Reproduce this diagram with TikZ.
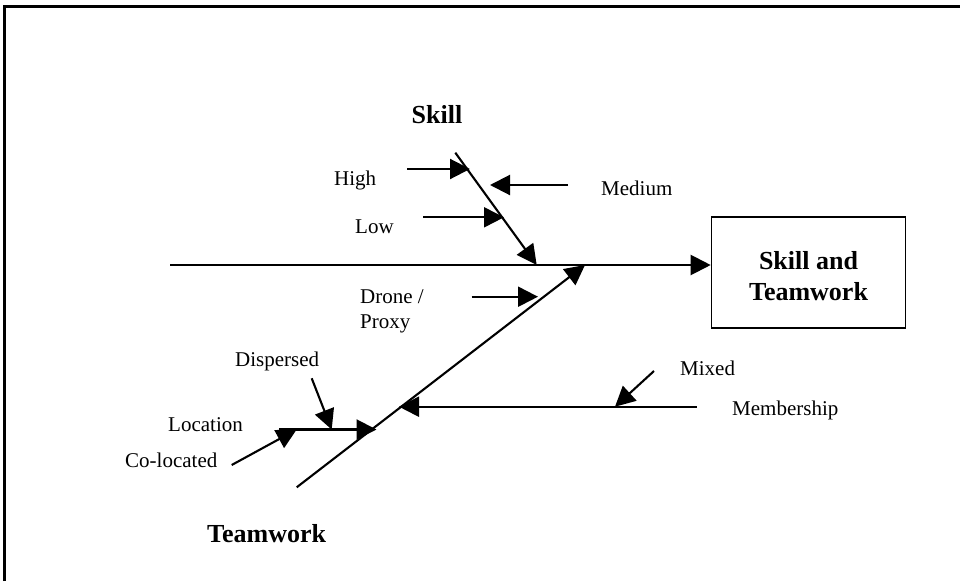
\documentclass[tikz,border=0pt]{standalone}
\usepackage{fontspec}
\setmainfont{Liberation Serif}
\usetikzlibrary{arrows.meta}
\tikzset{
  lbl/.style={inner sep=0pt, anchor=base west, font=\fontsize{21}{25}\selectfont},
  blbl/.style={inner sep=0pt, anchor=base west, font=\fontsize{26}{31}\selectfont\bfseries},
  arr/.style={line width=2.1pt, -{Triangle[length=20pt,width=20pt]}},
}
\begin{document}
\begin{tikzpicture}[x=1pt,y=-1pt]
\useasboundingbox (0,0) rectangle (960,581);
% frame
\draw[line width=3pt] (4.5,581) -- (4.5,6.5) -- (960,6.5);

% effect box
\node[draw, line width=1.6pt, minimum width=194pt, minimum height=111pt, inner sep=0pt] (box) at (808.5,272.5) {};
\node[inner sep=0pt, align=center, font=\fontsize{26}{31}\selectfont\bfseries] (boxtxt)
      at ([yshift=-4pt]box.center) {Skill and\\Teamwork};

% spine
\coordinate (spS) at (170,265);
\draw[arr] (spS) -- (spS -| box.west);

% Skill bone
\coordinate (sk1) at (455.3,152.7);
\coordinate (sk2) at (536.7,265);
\draw[arr] (sk1) -- (sk2);
\node[blbl] (skill) at (411.5,123) {Skill};

\coordinate (h1) at (407,169);
\coordinate (h2) at (470,169);
\draw[arr] (h1) -- (h2);
\node[lbl] (high) at (334,185) {High};

\coordinate (m1) at (568,185);
\coordinate (m2) at (490,185);
\draw[arr] (m1) -- (m2);
\node[lbl] (medium) at (601,195) {Medium};

\coordinate (l1) at (423,217.3);
\coordinate (l2) at (504,217.3);
\draw[arr] (l1) -- (l2);
\node[lbl] (low) at (355,233) {Low};

% Teamwork bone
\coordinate (t1) at (296.7,487.3);
\coordinate (t2) at (585,265);
\draw[arr] (t1) -- (t2);
\node[blbl] (team) at (207,542) {Teamwork};

\coordinate (d1) at (471.7,296.7);
\coordinate (d2) at (538,296.7);
\draw[arr] (d1) -- (d2);
\node[lbl] (drone) at (360,303) {Drone /};
\node[lbl] (proxy) at (360,328) {Proxy};

\coordinate (mm1) at (696.7,406.7);
\coordinate (mm2) at (399,406.7);
\draw[arr] (mm1) -- (mm2);
\coordinate (mx1) at (654,371);
\coordinate (mx2) at (615,406.7);
\draw[arr] (mx1) -- (mx2);
\node[lbl] (mixed) at (680,375) {Mixed};
\node[lbl] (member) at (732,415) {Membership};

\coordinate (lc1) at (279.3,429.5);
\coordinate (lc2) at (376.5,429.5);
\draw[arr] (lc1) -- (lc2);
\node[lbl] (loc) at (168,431) {Location};

\coordinate (ds1) at (311.7,378.3);
\coordinate (ds2) at (331.7,429.5);
\draw[arr] (ds1) -- (ds2);
\node[lbl] (disp) at (235,366) {Dispersed};

\coordinate (co1) at (231.7,465);
\coordinate (co2) at (296.7,429.5);
\draw[arr] (co1) -- (co2);
\node[lbl] (colo) at (125,467) {Co-located};
\end{tikzpicture}
\end{document}
